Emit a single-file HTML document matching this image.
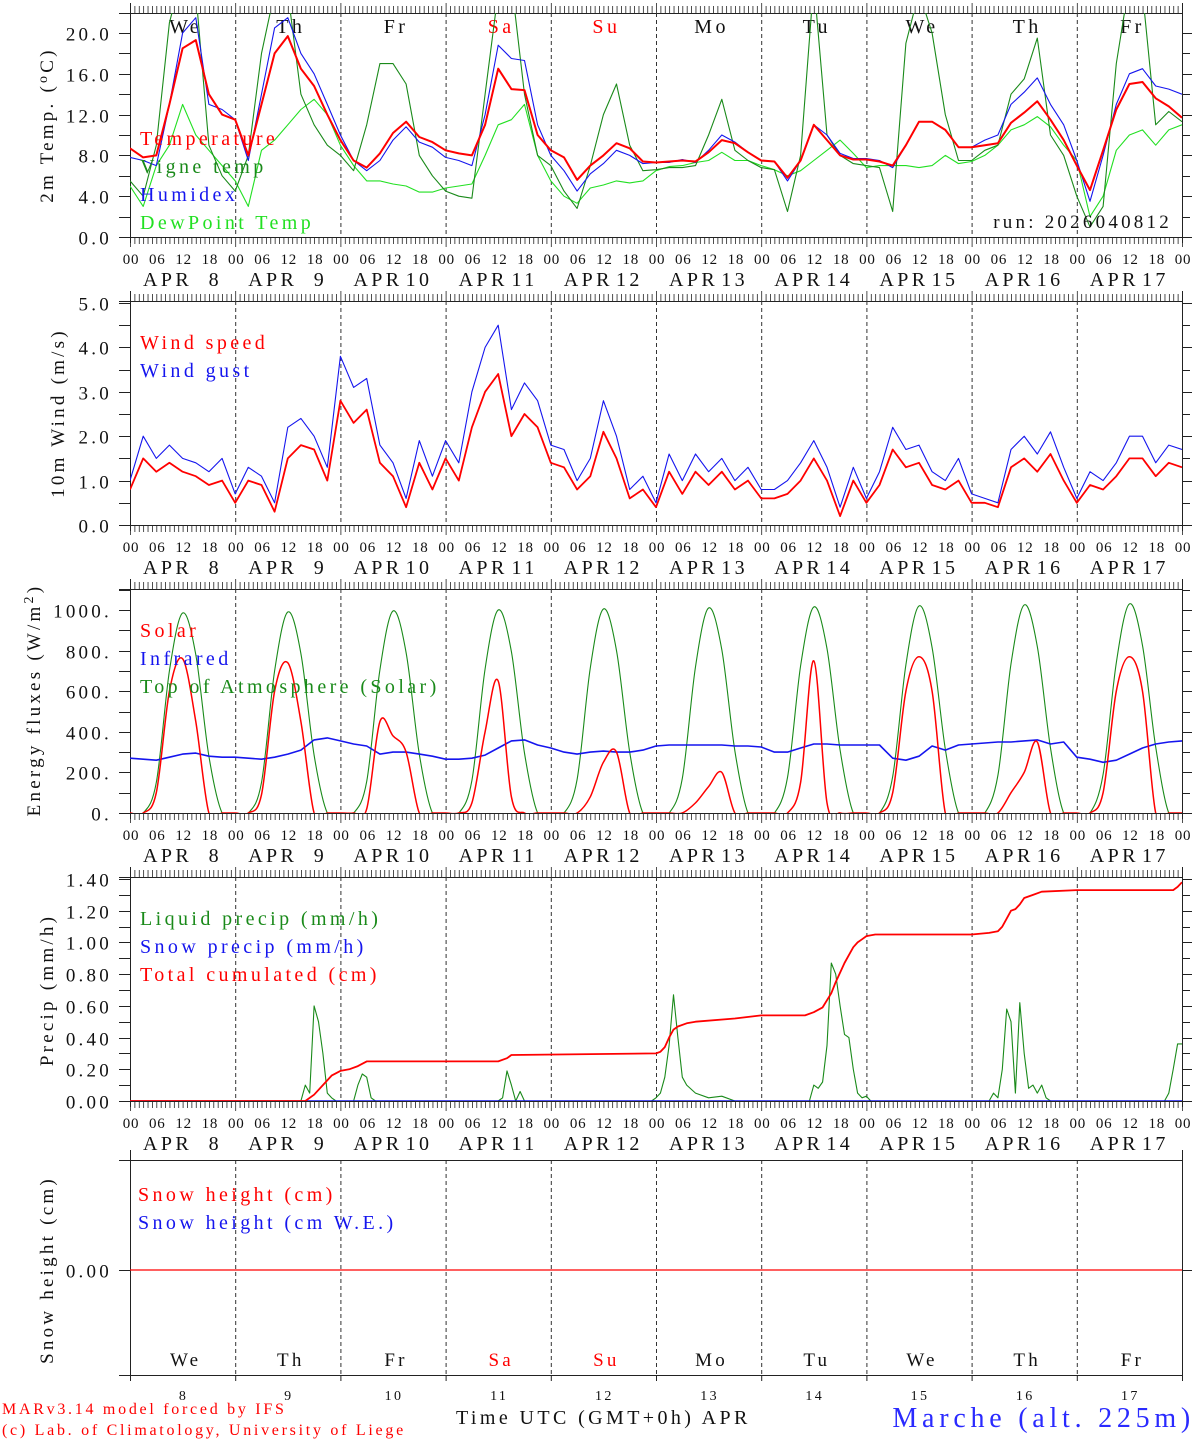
<!DOCTYPE html>
<html><head><meta charset="utf-8"><title>Marche forecast</title>
<style>
html,body{margin:0;padding:0;background:#fff;}
svg{display:block;font-family:"Liberation Serif","DejaVu Serif",serif;}
svg text{letter-spacing:0.17em;}
</style></head>
<body>
<svg id="chart" width="1194" height="1440" viewBox="0 0 1194 1440" xmlns="http://www.w3.org/2000/svg"></svg>
<script>
// ---------- data ----------
const days = ["8","9","10","11","12","13","14","15","16","17"];
const weekdays = ["We","Th","Fr","Sa","Su","Mo","Tu","We","Th","Fr"];
const weekdayRed = [false,false,false,true,true,false,false,false,false,false];
// 3-hourly series (81 points, hour = index*3)
const tempVals = [8.7,7.8,8.0,13,18.5,19.3,14,12, 11.5,8,13,18,19.7,16.5,14.8,12, 9.5,7.5,6.8,8.2,10.2,11.3,9.8,9.3, 8.5,8.2,8.0,11,16.5,14.5,14.4,10, 8.5,7.8,5.6,7,8,9.2,8.7,7.4, 7.3,7.4,7.5,7.4,8.3,9.5,9.2,8.3, 7.5,7.4,5.8,7.5,11,9.5,8,7.6, 7.6,7.4,7.0,9,11.3,11.3,10.5,8.8, 8.8,9,9.2,11.2,12.2,13.3,11.5,9.5, 7.0,4.6,8.5,12.5,15,15.2,13.6,12.8, 11.7];
const vigneVals = [5.5,4,9,21,26,24,9,6, 4.5,8,18,24,24,14,11,9, 8,6.5,11,17,17,15,8,6, 4.5,4,3.8,14,24,25,14,8, 7,4.5,2.8,7,12,15,9,6.5, 6.6,6.8,6.8,7.0,10,13.5,8.5,7.5, 6.8,6.6,2.5,8,25,10,8,7.2, 7.0,6.8,2.5,19,24,20,12,7.5, 7.5,8.5,9,14,15.5,19.5,10,8, 4,1,3,17,25,24,11,12.3, 11.3];
const humidexVals = [7.8,7.5,7.0,13,20,21.5,13,12.5, 11.5,7.5,14,20.5,21.5,18,16,13, 10,7.5,6.5,7.5,9.5,10.8,9.3,8.8, 7.8,7.5,7.0,12,18.8,17.5,17.3,11, 8.0,6.5,4.5,6.2,7.2,8.5,8.0,7.2, 7.3,7.3,7.6,7.3,8.5,10.0,9.3,8.3, 7.5,7.4,5.5,7.5,11,10,8.2,7.7, 7.7,7.5,6.8,9,11.3,11.3,10.5,8.8, 8.8,9.5,10,13,14.2,15.6,13,11, 7.5,3.5,8,13,16,16.5,14.8,14.5, 14];
const dewVals = [5,3,7,9,13,10,8.5,7, 5.5,3,8.5,9.5,11,12.5,13.5,12, 9,7,5.5,5.5,5.2,5.0,4.4,4.4, 4.8,5.0,5.2,8,11,11.5,13,8, 5.5,4,3.3,4.8,5.1,5.5,5.3,5.5, 6.5,6.9,7.0,7.3,7.5,8.3,7.5,7.5, 7.0,6.6,6.0,6.5,7.5,8.5,9.5,8.2, 6.8,7.0,7.0,7.0,6.8,7.0,8,7.2, 7.4,8.0,9,10.5,11,11.8,10.8,9.0, 7.5,2,4,8.5,10,10.5,9,10.5, 11];
const windVals = [0.8,1.5,1.2,1.4,1.2,1.1,0.9,1.0, 0.5,1.0,0.9,0.3,1.5,1.8,1.7,1.0, 2.8,2.3,2.6,1.4,1.1,0.4,1.4,0.8, 1.5,1.0,2.2,3.0,3.4,2.0,2.5,2.2, 1.4,1.3,0.8,1.1,2.1,1.5,0.6,0.8, 0.4,1.2,0.7,1.2,0.9,1.2,0.8,1.0, 0.6,0.6,0.7,1.0,1.5,1.0,0.2,1.0, 0.5,0.9,1.7,1.3,1.4,0.9,0.8,1.0, 0.5,0.5,0.4,1.3,1.5,1.2,1.6,1.0, 0.5,0.9,0.8,1.1,1.5,1.5,1.1,1.4, 1.3];
const gustVals = [1.0,2.0,1.5,1.8,1.5,1.4,1.2,1.5, 0.7,1.3,1.1,0.5,2.2,2.4,2.0,1.3, 3.8,3.1,3.3,1.8,1.4,0.6,1.9,1.1, 1.9,1.4,3.0,4.0,4.5,2.6,3.2,2.8, 1.8,1.7,1.0,1.5,2.8,2.0,0.8,1.1, 0.5,1.6,1.0,1.6,1.2,1.5,1.0,1.3, 0.8,0.8,1.0,1.4,1.9,1.3,0.4,1.3, 0.6,1.2,2.2,1.7,1.8,1.2,1.0,1.5, 0.7,0.6,0.5,1.7,2.0,1.6,2.1,1.3, 0.6,1.2,1.0,1.4,2.0,2.0,1.4,1.8, 1.7];
const toaVals = [0,0,150,700,985,780,280,0, 0,0,150,700,990,785,285,0, 0,0,155,705,995,790,290,0, 0,0,160,710,1000,795,295,0, 0,0,165,715,1005,800,300,0, 0,0,170,720,1010,805,305,0, 0,0,175,725,1015,810,310,0, 0,0,180,730,1020,815,315,0, 0,0,185,735,1025,820,320,0, 0,0,190,740,1030,825,325,0, 0];
const solarVals = [0,0,100,600,760,450,0,0, 0,0,90,600,740,450,0,0, 0,0,20,450,380,300,0,0, 0,0,50,400,650,80,0,0, 0,0,0,80,250,300,0,0, 0,0,0,50,130,200,0,0, 0,0,0,150,750,50,0,0, 0,0,100,600,770,600,0,0, 0,0,0,100,200,350,0,0, 0,0,100,600,770,600,0,0, 0];
const irVals = [270,265,260,275,290,295,280,275, 275,270,265,275,290,310,360,370, 355,340,330,290,300,300,290,280, 265,265,270,285,320,355,360,335, 320,300,290,300,305,300,300,310, 330,335,335,335,335,335,330,330, 325,300,300,320,340,340,335,335, 335,335,270,260,280,330,310,335, 340,345,350,350,355,360,340,350, 275,265,250,260,290,320,340,350, 355];
const snowPrecipVals = [0,0,0,0,0,0,0,0, 0,0,0,0,0,0,0,0, 0,0,0,0,0,0,0,0, 0,0,0,0,0,0,0,0, 0,0,0,0,0,0,0,0, 0,0,0,0,0,0,0,0, 0,0,0,0,0,0,0,0, 0,0,0,0,0,0,0,0, 0,0,0,0,0,0,0,0, 0,0,0,0,0,0,0,0, 0];
const snowHeightVals = [0,0,0,0,0,0,0,0, 0,0,0,0,0,0,0,0, 0,0,0,0,0,0,0,0, 0,0,0,0,0,0,0,0, 0,0,0,0,0,0,0,0, 0,0,0,0,0,0,0,0, 0,0,0,0,0,0,0,0, 0,0,0,0,0,0,0,0, 0,0,0,0,0,0,0,0, 0,0,0,0,0,0,0,0, 0];
// irregular-hour series (hours since APR 8 00 UTC)
const liqHours = [0,39,40,41,42,43,44,45,46,47,51,52,53,54,55,56,84,85,86,87,88,89,90,119,120,121,122,123,124,125,126,127,129,132,135,138,155,156,157,158,159,160,161,162,163,164,165,166,167,168,169,196,197,198,199,200,201,202,203,204,205,206,207,208,209,210,236,237,238,239,240];
const liqVals  = [0,0,0.1,0.05,0.6,0.5,0.3,0.05,0.02,0,0,0.1,0.17,0.15,0.02,0,0,0.02,0.19,0.1,0,0.06,0,0,0.02,0.05,0.15,0.35,0.67,0.4,0.15,0.1,0.05,0.02,0.03,0,0,0.1,0.08,0.12,0.35,0.87,0.8,0.6,0.42,0.4,0.2,0.05,0.02,0.03,0,0,0.05,0.02,0.2,0.58,0.5,0.05,0.62,0.3,0.08,0.1,0.05,0.1,0.02,0,0,0.05,0.2,0.36,0.36];
const cumHours = [0,40,42,44,46,48,50,52,54,84,86,87,120,121,122,123,124,125,127,129,138,144,154,156,158,160,161,162,163,164,165,166,167,168,170,186,192,196,198,199,200,201,202,203,204,206,208,216,238,239,240];
const cumVals  = [0,0,0.04,0.1,0.16,0.19,0.2,0.22,0.25,0.25,0.27,0.29,0.30,0.31,0.34,0.40,0.45,0.47,0.49,0.50,0.52,0.54,0.54,0.56,0.59,0.68,0.75,0.81,0.87,0.92,0.97,1.00,1.02,1.04,1.05,1.05,1.05,1.06,1.07,1.10,1.15,1.20,1.21,1.24,1.28,1.30,1.32,1.33,1.33,1.35,1.38];

// ---------- layout ----------
const svg = document.getElementById('chart');
const NS = "http://www.w3.org/2000/svg";
const X0 = 130, X1 = 1182;
function xOf(h){ return X0 + h*(X1-X0)/240; }
function el(tag, attrs, parent){
  const e = document.createElementNS(NS, tag);
  for (const k in attrs) e.setAttribute(k, attrs[k]);
  (parent||svg).appendChild(e);
  return e;
}
function txt(s, x, y, size, fill, anchor, parent){
  const t = el('text', {x:x, y:y, 'font-size':size, fill:fill, 'text-anchor':anchor||'start'}, parent);
  t.textContent = s;
  return t;
}
const panels = [
  {id:'temp',  top:13,  bottom:237,  v0:0, pxPer:10.2},
  {id:'wind',  top:301, bottom:525,  v0:0, pxPer:44.4},
  {id:'energy',top:589, bottom:813,  v0:0, pxPer:0.203},
  {id:'precip',top:877, bottom:1101, v0:0, pxPer:158.57},
  {id:'snow',  top:1160,bottom:1375, v0:0, pxPer:100}
];
function yFn(p){ return v => p.zeroY - v*p.pxPer; }
panels.forEach(p=>{ p.zeroY = p.bottom; });
panels[4].zeroY = 1270;

const defs = el('defs', {});
panels.forEach(p=>{
  const c = el('clipPath', {id:'clip-'+p.id}, defs);
  el('rect', {x:X0, y:p.top, width:X1-X0, height:p.bottom-p.top}, c);
});

function linePath(hours, vals, yf){
  let d = '';
  for (let i=0;i<vals.length;i++){
    d += (i?'L':'M') + xOf(hours[i]).toFixed(1) + ' ' + yf(vals[i]).toFixed(1);
  }
  return d;
}
function smoothPath(hours, vals, yf){
  const pts = hours.map((h,i)=>[xOf(h), yf(vals[i])]);
  let d = 'M'+pts[0][0].toFixed(1)+' '+pts[0][1].toFixed(1);
  for (let i=0;i<pts.length-1;i++){
    const p0 = pts[Math.max(0,i-1)], p1 = pts[i], p2 = pts[i+1], p3 = pts[Math.min(pts.length-1,i+2)];
    const c1 = [p1[0]+(p2[0]-p0[0])/6, p1[1]+(p2[1]-p0[1])/6];
    const c2 = [p2[0]-(p3[0]-p1[0])/6, p2[1]-(p3[1]-p1[1])/6];
    d += 'C'+c1[0].toFixed(1)+' '+c1[1].toFixed(1)+' '+c2[0].toFixed(1)+' '+c2[1].toFixed(1)+' '+p2[0].toFixed(1)+' '+p2[1].toFixed(1);
  }
  return d;
}
const hours3 = tempVals.map((v,i)=>i*3);

function drawSeries(p, name, hours, vals, color, width, smooth){
  const g = el('g', {'clip-path':'url(#clip-'+p.id+')'});
  const path = el('path', {d:(smooth?smoothPath:linePath)(hours, vals, yFn(p)), fill:'none', stroke:color, 'stroke-width':width, 'stroke-linejoin':'round'}, g);
  
  
}

function drawFrame(p, yTicks, yLabels, yMinor, fmt, hasTop){
  const g = el('g', {stroke:'#222', 'stroke-width':1, fill:'none'});
  
  
  el('line', {x1:119, y1:p.bottom+0.5, x2:X1, y2:p.bottom+0.5}, g);
  if (hasTop) el('line', {x1:119, y1:p.top+0.5, x2:X1, y2:p.top+0.5}, g);
  el('line', {x1:X0+0.5, y1:p.top-10, x2:X0+0.5, y2:p.bottom+6}, g);
  el('line', {x1:X1+0.5, y1:p.top-10, x2:X1+0.5, y2:p.bottom+6}, g);
  if (hasTop){
    for (let h=0; h<=240; h++){
      const x = xOf(h)+0.5;
      const big = h%24===0;
      el('line', {x1:x, y1:p.bottom, x2:x, y2:p.bottom+(big?10:7), 'stroke-width':0.8}, g);
      el('line', {x1:x, y1:p.top, x2:x, y2:p.top-(big?10:7), 'stroke-width':0.8}, g);
    }
  } else {
    for (let d=0; d<=10; d++){
      const x = xOf(d*24)+0.5;
      el('line', {x1:x, y1:p.bottom, x2:x, y2:p.bottom+6}, g);
    }
  }
  const yf = yFn(p);
  yMinor.forEach(v=>{
    const y = Math.round(yf(v))+0.5;
    el('line', {x1:119, y1:y, x2:X0, y2:y}, g);
    el('line', {x1:X1, y1:y, x2:X1+8, y2:y}, g);
  });
  yTicks.forEach((v,i)=>{
    const y = Math.round(yf(v))+0.5;
    el('line', {x1:119, y1:y, x2:X0, y2:y}, g);
    el('line', {x1:X1, y1:y, x2:X1+10, y2:y}, g);
    const t = txt(yLabels[i], 112, y+7, 19, '#111', 'end');
    
    
  });
  for (let d=1; d<10; d++){
    const x = xOf(d*24)+0.5;
    const l = el('line', {x1:x, y1:p.top, x2:x, y2:p.bottom, 'stroke-dasharray':'4,3', stroke:'#333'}, g);
    
    
  }
}
function drawTimeLabels(p){
  const g = el('g', {});
  
  
  for (let h=0; h<=240; h+=6){
    const hh = h%24;
    const t = txt((hh<10?'0':'')+hh, xOf(h)+1, p.bottom+27, 15, '#111', 'middle', g);
    t.setAttribute('style', 'letter-spacing:0.05em');
  }
  days.forEach((d,i)=>{
    const x0 = xOf(i*24);
    txt('APR', x0+13, p.bottom+49, 20, '#111', 'start', g);
    txt(d, x0+92, p.bottom+49, 20, '#111', 'end', g);
  });
}
function yTitle(s, x, y, name){
  const t = el('text', {x:0, y:0, 'font-size':19, fill:'#111', 'text-anchor':'middle', transform:'translate('+x+','+y+') rotate(-90)'});
  t.innerHTML = s;
  
  
}
function legend(items, x, y0, step){
  items.forEach((it,i)=>{
    const t = txt(it[0], x, y0+i*step, 20, it[1], 'start');
    
    
  });
}
function range(a,b,s){ const r=[]; for(let v=a; v<=b+1e-9; v+=s) r.push(+v.toFixed(4)); return r; }

// Panel 1 temperature
const P1 = panels[0];
drawFrame(P1, range(0,20,4), ['0.0','4.0','8.0','12.0','16.0','20.0'], range(2,20,4), null, true);
drawTimeLabels(P1);
weekdays.forEach((w,i)=>{
  const t = txt(w, xOf(i*24+12)+3, 33, 20, weekdayRed[i]?'#f00':'#111', 'middle');
  
  
});
drawSeries(P1, 'dewpoint-line', hours3, dewVals, '#22e022', 1.1, false);
drawSeries(P1, 'vigne-temp-line', hours3, vigneVals, '#1a8a1a', 1.1, false);
drawSeries(P1, 'humidex-line', hours3, humidexVals, '#1515ee', 1.1, false);
drawSeries(P1, 'temperature-line', hours3, tempVals, '#f00', 2, false);
legend([['Temperature','#f00'],['Vigne temp','#1a8a1a'],['Humidex','#1515ee'],['DewPoint Temp','#22e022']], 140, 145, 28);
(function(){ const t = txt('run: 2026040812', 1172, 228, 19, '#111', 'end');

 })();
yTitle('2m Temp. (<tspan font-size="14" dy="-6">o</tspan><tspan dy="6">C)</tspan>', 53, 125, 'temp-y-axis-title');

// Panel 2 wind
const P2 = panels[1];
drawFrame(P2, range(0,5,1), ['0.0','1.0','2.0','3.0','4.0','5.0'], range(0.5,4.5,1), null, true);
drawTimeLabels(P2);
drawSeries(P2, 'wind-gust-line', hours3, gustVals, '#1515ee', 1.1, false);
drawSeries(P2, 'wind-speed-line', hours3, windVals, '#f00', 1.8, false);
legend([['Wind speed','#f00'],['Wind gust','#1515ee']], 140, 349, 28);
yTitle('10m Wind (m/s)', 64, 413, 'wind-y-axis-title');

// Panel 3 energy
const P3 = panels[2];
drawFrame(P3, range(0,1000,200), ['0.','200.','400.','600.','800.','1000.'], range(100,1100,200), null, true);
drawTimeLabels(P3);
drawSeries(P3, 'toa-solar-line', hours3, toaVals, '#1a8a1a', 1.1, true);
drawSeries(P3, 'infrared-line', hours3, irVals, '#1515ee', 1.6, false);
drawSeries(P3, 'solar-line', hours3, solarVals, '#f00', 1.5, true);
legend([['Solar','#f00'],['Infrared','#1515ee'],['Top of Atmosphere (Solar)','#1a8a1a']], 140, 637, 28);
yTitle('Energy fluxes (W/m<tspan font-size="14" dy="-7">2</tspan><tspan dy="7">)</tspan>', 40, 700, 'energy-y-axis-title');

// Panel 4 precip
const P4 = panels[3];
drawFrame(P4, range(0,1.4,0.2), ['0.00','0.20','0.40','0.60','0.80','1.00','1.20','1.40'], range(0.1,1.3,0.2), null, true);
drawTimeLabels(P4);
drawSeries(P4, 'liquid-precip-line', liqHours, liqVals, '#1a8a1a', 1.1, false);
drawSeries(P4, 'snow-precip-line', hours3, snowPrecipVals, '#1515ee', 1.6, false);
drawSeries(P4, 'total-cumulated-line', cumHours, cumVals, '#f00', 1.8, false);
legend([['Liquid precip (mm/h)','#1a8a1a'],['Snow precip (mm/h)','#1515ee'],['Total cumulated (cm)','#f00']], 140, 925, 28);
yTitle('Precip (mm/h)', 53, 990, 'precip-y-axis-title');

// Panel 5 snow height
const P5 = panels[4];
drawFrame(P5, [0], ['0.00'], [], null, false);
el('line', {x1:119, y1:P5.top+0.5, x2:X1, y2:P5.top+0.5, stroke:'#222'});
drawSeries(P5, 'snow-height-line', hours3, snowHeightVals, '#f00', 1.3, false);
legend([['Snow height (cm)','#f00'],['Snow height (cm W.E.)','#1515ee']], 138, 1201, 28);
yTitle('Snow height (cm)', 53, 1270, 'snow-y-axis-title');
weekdays.forEach((w,i)=>{
  const t = txt(w, xOf(i*24+12)+3, 1366, 19, weekdayRed[i]?'#f00':'#111', 'middle');
  
  
});
days.forEach((d,i)=>{
  const t = txt(d, xOf(i*24+12)+1, 1400, 14, '#111', 'middle');
  
  
});

// footer
(function(){
  let t = txt('MARv3.14 model forced by IFS', 2, 1414, 16, '#f00', 'start');
  
  
  t = txt('(c) Lab. of Climatology, University of Liege', 2, 1435, 16, '#f00', 'start');
  
  
  t = txt('Time UTC (GMT+0h) APR', 456, 1424, 20, '#111', 'start');
  
  
  t = txt('Marche (alt. 225m)', 1195, 1427, 28, '#2a2aff', 'end');
  
  
})();
</script>
</body></html>
